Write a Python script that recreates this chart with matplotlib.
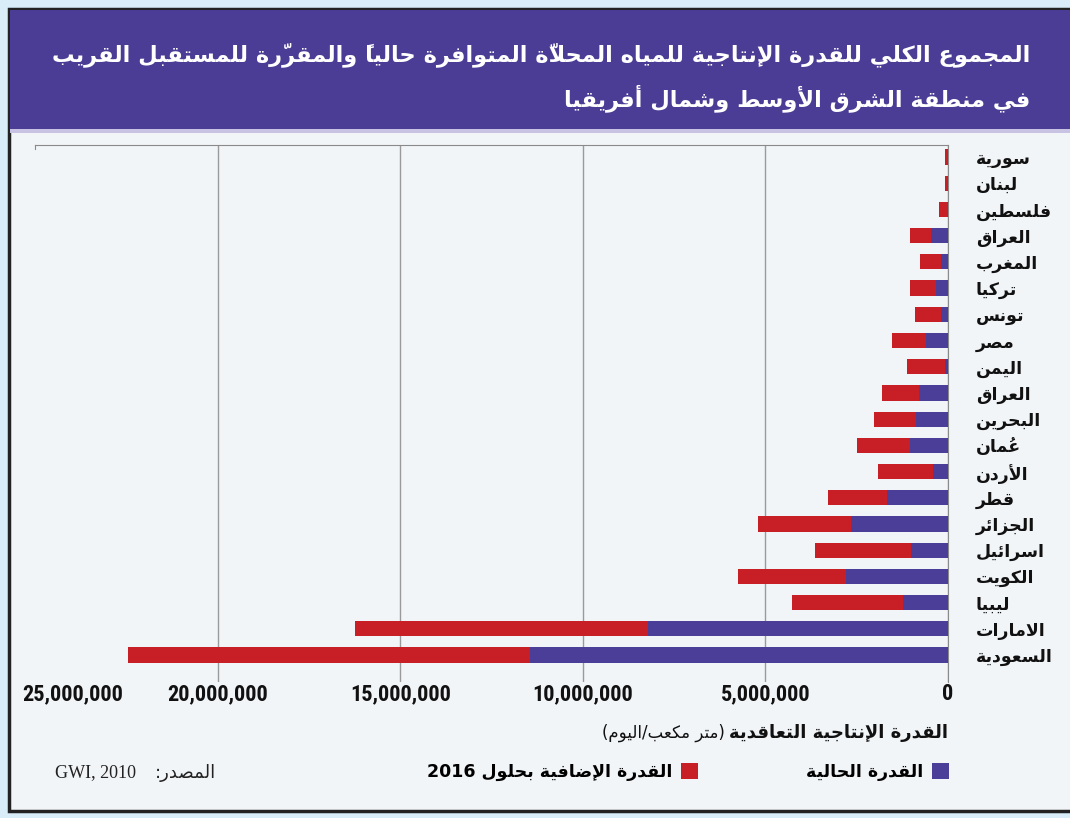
import re
import unicodedata
import matplotlib
matplotlib.use("Agg")
import matplotlib.pyplot as plt
from matplotlib import font_manager
from matplotlib.patches import Rectangle, Patch
from matplotlib.transforms import ScaledTranslation

# ---- data (m3/day) ----
countries = ["سورية", "لبنان", "فلسطين", "العراق", "المغرب", "تركيا", "تونس",
             "مصر", "اليمن", "العراق", "البحرين", "عُمان", "الأردن", "قطر",
             "الجزائر", "اسرائيل", "الكويت", "ليبيا", "الامارات", "السعودية"]
current = [0, 0, 0, 460000, 190000, 330000, 190000, 600000, 80000, 790000,
           870000, 1040000, 410000, 1670000, 2650000, 1010000, 2790000,
           1230000, 8220000, 11450000]
additional = [70000, 70000, 250000, 580000, 580000, 710000, 710000, 930000,
              1040000, 1010000, 1150000, 1450000, 1500000, 1610000, 2540000,
              2620000, 2950000, 3030000, 8010000, 11010000]
xticks = [25000000, 20000000, 15000000, 10000000, 5000000, 0]

title_lines = ["المجموع الكلي للقدرة الإنتاجية للمياه المحلاّة المتوافرة حالياً والمقرّرة للمستقبل القريب",
               "في منطقة الشرق الأوسط وشمال أفريقيا"]
label_current = "القدرة الحالية"
label_additional = "القدرة الإضافية بحلول 2016"
xlabel_bold = "القدرة الإنتاجية التعاقدية"
xlabel_unit = "(متر مكعب/اليوم)"
source_label = "المصدر:"
source_text = "GWI, 2010"

PURPLE = "#4a3e98"
RED = "#c81f27"

# ---- minimal arabic shaping (no reshaper lib available) ----
_table = [("ء", 0xFE80, 1), ("آ", 0xFE81, 2), ("أ", 0xFE83, 2), ("ؤ", 0xFE85, 2),
          ("إ", 0xFE87, 2), ("ئ", 0xFE89, 4), ("ا", 0xFE8D, 2), ("ب", 0xFE8F, 4),
          ("ة", 0xFE93, 2), ("ت", 0xFE95, 4), ("ث", 0xFE99, 4), ("ج", 0xFE9D, 4),
          ("ح", 0xFEA1, 4), ("خ", 0xFEA5, 4), ("د", 0xFEA9, 2), ("ذ", 0xFEAB, 2),
          ("ر", 0xFEAD, 2), ("ز", 0xFEAF, 2), ("س", 0xFEB1, 4), ("ش", 0xFEB5, 4),
          ("ص", 0xFEB9, 4), ("ض", 0xFEBD, 4), ("ط", 0xFEC1, 4), ("ظ", 0xFEC5, 4),
          ("ع", 0xFEC9, 4), ("غ", 0xFECD, 4), ("ف", 0xFED1, 4), ("ق", 0xFED5, 4),
          ("ك", 0xFED9, 4), ("ل", 0xFEDD, 4), ("م", 0xFEE1, 4), ("ن", 0xFEE5, 4),
          ("ه", 0xFEE9, 4), ("و", 0xFEED, 2), ("ى", 0xFEEF, 2), ("ي", 0xFEF1, 4)]
FORMS = {c: (b, n) for c, b, n in _table}
LAM_ALEF = {"آ": 0xFEF5, "أ": 0xFEF7, "إ": 0xFEF9, "ا": 0xFEFB}
MIRROR = {"(": ")", ")": "("}


def is_mark(c):
    return unicodedata.category(c) == "Mn"


def shape(text):
    chars = list(text)
    n = len(chars)

    def neighbor(i, step):
        j = i + step
        while 0 <= j < n and is_mark(chars[j]):
            j += step
        return j if 0 <= j < n else None

    out, skip = [], set()
    for i, c in enumerate(chars):
        if i in skip:
            continue
        if c not in FORMS:
            out.append(c)
            continue
        p = neighbor(i, -1)
        prev_joins = p is not None and chars[p] in FORMS and FORMS[chars[p]][1] == 4
        nx = neighbor(i, 1)
        if c == "ل" and nx is not None and chars[nx] in LAM_ALEF:
            out.append(chr(LAM_ALEF[chars[nx]] + (1 if prev_joins else 0)))
            out.extend(chars[i + 1:nx])
            skip.add(nx)
            continue
        base, cnt = FORMS[c]
        next_joins = cnt == 4 and nx is not None and chars[nx] in FORMS and FORMS[chars[nx]][1] > 1
        if cnt == 1:
            out.append(chr(base))
        elif prev_joins and next_joins:
            out.append(chr(base + 3))
        elif prev_joins:
            out.append(chr(base + 1))
        elif next_joins:
            out.append(chr(base + 2))
        else:
            out.append(chr(base))
    return "".join(out)


def ar(text):
    s = shape(text)
    tokens = []
    for m in re.finditer(r"[A-Za-z0-9][A-Za-z0-9 ,.]*[A-Za-z0-9]|[A-Za-z0-9]|.", s):
        t = m.group(0)
        if len(t) == 1 and is_mark(t) and tokens:
            # zero-advance mark drawn from the pen: put it before its letter
            tokens[-1] = t + tokens[-1]
        else:
            tokens.append(t)
    tokens.reverse()
    return "".join(MIRROR.get(t, t) for t in tokens)


# narrow font for the numbers if one is around
installed = {f.name for f in font_manager.fontManager.ttflist}
if "Liberation Sans Narrow" in installed:
    numfont, numsize = "Liberation Sans Narrow", 16
elif "Roboto Condensed" in installed:
    numfont, numsize = "Roboto Condensed", 16
else:
    numfont, numsize = "Liberation Sans", 14

# ---- figure ----
W, H = 1070, 818
fig = plt.figure(figsize=(W / 100, H / 100), dpi=100)
fig.patch.set_facecolor("#d9edf9")


def fx(px):
    return px / W


def fy(py):
    return 1 - py / H


# frame, title band
fig.patches.append(Rectangle((fx(9), fy(811)), fx(1070) - fx(9) + 0.01, fy(9) - fy(811),
                             transform=fig.transFigure, facecolor="#f2f5f8",
                             edgecolor="#222222", lw=2.5, zorder=-3))
fig.patches.append(Rectangle((fx(10), fy(129)), 1, fy(10) - fy(129),
                             transform=fig.transFigure, facecolor="#4b3c95",
                             edgecolor="none", zorder=-2))
fig.patches.append(Rectangle((fx(10), fy(133)), 1, fy(129) - fy(133),
                             transform=fig.transFigure, facecolor="#c9c3e3",
                             edgecolor="none", zorder=-2))

arfont = "DejaVu Sans"
fig.text(fx(1030), fy(55), ar(title_lines[0]), ha="right", va="center",
         color="white", fontsize=16.2, fontweight="bold", family=arfont)
fig.text(fx(1030), fy(98), ar(title_lines[1]), ha="right", va="center",
         color="white", fontsize=16.2, fontweight="bold", family=arfont)

# ---- axes ----
ax = fig.add_axes([fx(35), fy(682), fx(948) - fx(35), fy(145) - fy(682)])
ax.set_facecolor("none")
ypos = list(range(len(countries)))
ax.barh(ypos, current, height=0.58, color=PURPLE, zorder=3)
ax.barh(ypos, additional, left=current, height=0.58, color=RED, zorder=3)

ax.set_xlim(25000000, 0)
ax.set_ylim(20.03, -0.46)
ax.set_xticks(xticks)
ax.set_xticklabels([f"{v:,}" for v in xticks], fontsize=numsize, fontweight="bold",
                   family=numfont, color="#111111")
ax.tick_params(axis="x", length=0, pad=1)
lbl0 = ax.get_xticklabels()[0]
lbl0.set_ha("left")
lbl0.set_transform(lbl0.get_transform() + ScaledTranslation(-0.13, 0, fig.dpi_scale_trans))
ax.xaxis.grid(True, color="#9a9a9a", lw=1, zorder=1)
ax.xaxis.get_gridlines()[0].set_visible(False)

ax.yaxis.tick_right()
ax.set_yticks(ypos)
ax.set_yticklabels([ar(c) for c in countries], fontsize=12.5, fontweight="bold",
                   family=arfont, ha="left", color="#111111")
ax.tick_params(axis="y", length=0, pad=20)

ax.spines["bottom"].set_visible(False)
ax.spines["top"].set_color("#8a8a8a")
ax.spines["right"].set_color("#8a8a8a")
ax.spines["left"].set_color("#8a8a8a")
ax.spines["left"].set_bounds(-0.46, -0.3)

# axis label
t1 = fig.text(fx(948), fy(733), ar(xlabel_bold), ha="right", va="center",
              fontsize=13, fontweight="bold", family=arfont, color="#111111")
fig.canvas.draw()
bb = t1.get_window_extent()
fig.text(bb.x0 / W - fx(4), fy(733), ar(xlabel_unit), ha="right", va="center",
         fontsize=12, family=arfont, color="#111111")

# legend (markers on the right, RTL)
handles = [Patch(facecolor=RED, edgecolor="none"), Patch(facecolor=PURPLE, edgecolor="none")]
labels = [ar(label_additional), ar(label_current)]
fig.legend(handles, labels, loc="center right", bbox_to_anchor=(fx(965), fy(772)),
           ncol=2, markerfirst=False, frameon=False, handlelength=1.0,
           handleheight=1.0, columnspacing=6.2, handletextpad=0.5,
           prop={"family": arfont, "weight": "bold", "size": 12.5})

# source
fig.text(fx(216), fy(773), ar(source_label), ha="right", va="center",
         fontsize=13, family=arfont, color="#222222")
fig.text(fx(55), fy(773), source_text, ha="left", va="center",
         fontsize=13, family="Liberation Serif", color="#222222")

fig.savefig("out.png", dpi=100, facecolor=fig.get_facecolor())
